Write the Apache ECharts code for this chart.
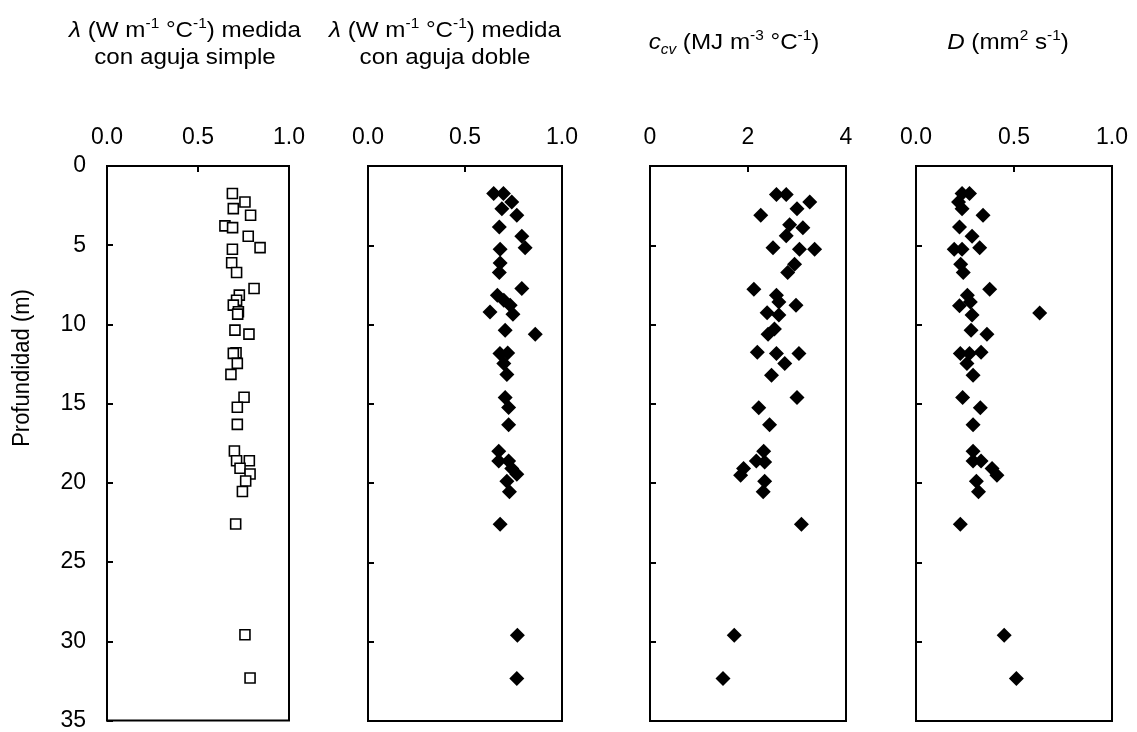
<!DOCTYPE html>
<html><head><meta charset="utf-8">
<script src="https://cdn.jsdelivr.net/npm/echarts@6/dist/echarts.min.js"></script>
<style>html,body{margin:0;padding:0;background:#fff}#c{width:1137px;height:732px}</style>
</head><body><div id="c"></div>
<script>
// Panel 1: lambda, single needle (W m-1 °C-1)
const depthSimple = [1.74, 2.27, 2.69, 3.11, 3.78, 3.89, 4.43, 5.15, 5.25, 6.11, 6.72, 7.73, 8.15, 8.47, 8.78, 9.2, 9.35, 10.36, 10.61, 11.79, 11.83, 12.46, 13.15, 14.6, 15.23, 16.31, 17.99, 18.6, 18.6, 19.08, 19.44, 19.88, 20.55, 22.6, 29.59, 32.32];
const lambdaSimple = [0.689, 0.758, 0.694, 0.789, 0.648, 0.690, 0.776, 0.841, 0.689, 0.685, 0.712, 0.808, 0.727, 0.712, 0.694, 0.722, 0.718, 0.703, 0.780, 0.709, 0.694, 0.716, 0.681, 0.753, 0.716, 0.716, 0.700, 0.712, 0.782, 0.731, 0.786, 0.762, 0.744, 0.707, 0.758, 0.786];
// Panel 2: lambda, dual needle
const depthDoble = [1.74, 1.74, 2.27, 2.69, 3.11, 3.84, 4.43, 5.15, 5.25, 6.11, 6.72, 7.73, 8.15, 8.47, 8.78, 9.2, 9.35, 10.36, 10.61, 11.79, 11.83, 12.46, 13.15, 14.6, 15.23, 16.31, 17.99, 18.6, 18.6, 19.08, 19.44, 19.88, 20.55, 22.6, 29.59, 32.32];
const lambdaDoble = [0.648, 0.698, 0.741, 0.690, 0.767, 0.677, 0.793, 0.810, 0.681, 0.681, 0.677, 0.793, 0.667, 0.70, 0.733, 0.629, 0.747, 0.707, 0.862, 0.72, 0.68, 0.70, 0.716, 0.707, 0.725, 0.725, 0.674, 0.674, 0.725, 0.741, 0.767, 0.716, 0.729, 0.681, 0.770, 0.767];
// Panel 3: volumetric heat capacity (MJ m-3 °C-1)
const depthCcv = [1.8, 1.8, 2.27, 2.69, 3.11, 3.7, 3.9, 4.4, 5.15, 5.25, 5.25, 6.2, 6.72, 7.77, 8.15, 8.57, 8.78, 9.25, 9.4, 10.28, 10.61, 11.75, 11.82, 11.82, 12.46, 13.2, 14.6, 15.25, 16.31, 17.99, 18.6, 18.67, 19.08, 19.5, 19.88, 20.55, 22.6, 29.59, 32.32];
const ccv = [2.58, 2.78, 3.26, 3.0, 2.26, 2.85, 3.12, 2.78, 2.51, 3.05, 3.36, 2.95, 2.81, 2.12, 2.58, 2.63, 2.98, 2.39, 2.63, 2.54, 2.41, 2.19, 2.58, 3.04, 2.75, 2.48, 3.0, 2.22, 2.44, 2.32, 2.17, 2.34, 1.91, 1.85, 2.34, 2.31, 3.09, 1.72, 1.49];
// Panel 4: thermal diffusivity (mm2 s-1)
const depthD = [1.74, 1.74, 2.27, 2.69, 3.11, 3.84, 4.43, 5.15, 5.25, 5.25, 6.2, 6.72, 7.77, 8.15, 8.57, 8.82, 9.27, 9.4, 10.36, 10.61, 11.82, 11.82, 11.75, 12.46, 13.2, 14.6, 15.25, 16.31, 17.99, 18.6, 18.6, 19.08, 19.5, 19.88, 20.55, 22.6, 29.59, 32.32];
const diffD = [0.235, 0.273, 0.217, 0.235, 0.342, 0.222, 0.286, 0.325, 0.195, 0.235, 0.228, 0.241, 0.376, 0.262, 0.277, 0.222, 0.631, 0.286, 0.281, 0.362, 0.226, 0.273, 0.332, 0.26, 0.291, 0.238, 0.328, 0.291, 0.291, 0.291, 0.332, 0.388, 0.413, 0.308, 0.319, 0.226, 0.45, 0.512];

const xMax = [1, 1, 4, 1];
const xInterval = [0.5, 0.5, 2, 0.5];
const yTickMax = 35, yTickInterval = 5;
const yAxisTitle = 'Profundidad (m)';

const FONT = '"Liberation Sans", Arial, sans-serif';
const FS = 22;
const AFS = 23;
const BLACK = '#000';

const grids = [
  {left: 107, width: 182},
  {left: 368, width: 194},
  {left: 650, width: 196},
  {left: 916, width: 196}
].map(g => ({left: g.left, width: g.width, top: 166, height: 555, show: true,
  borderColor: BLACK, borderWidth: 2, backgroundColor: 'transparent', containLabel: false}));

const xAxes = xMax.map((mx, i) => ({
  gridIndex: i, type: 'value', position: 'top', min: 0, max: mx, interval: xInterval[i],
  axisLine: {show: true, onZero: false, lineStyle: {color: BLACK, width: 2}},
  axisTick: {show: true, inside: true, length: 6, lineStyle: {color: BLACK, width: 2}},
  axisLabel: {show: true, margin: 17, color: BLACK, fontSize: AFS, fontFamily: FONT,
    showMinLabel: true, showMaxLabel: true,
    formatter: v => (i === 2 ? String(Math.round(v)) : v.toFixed(1))},
  splitLine: {show: false}
}));

const yAxes = [0, 1, 2, 3].map(i => ({
  gridIndex: i, type: 'value', inverse: true, min: 0, max: yTickMax, interval: yTickInterval,
  axisLine: {show: true, onZero: false, lineStyle: {color: BLACK, width: 2}},
  axisTick: {show: true, inside: true, length: 6, lineStyle: {color: BLACK, width: 2}},
  axisLabel: {show: i === 0, margin: 21, color: BLACK, fontSize: AFS, fontFamily: FONT,
    showMinLabel: true, showMaxLabel: true},
  splitLine: {show: false}
}));

function zip(xs, ys) { return xs.map((x, k) => [x, ys[k]]); }

const diamond = {symbol: 'diamond', symbolSize: 15, itemStyle: {color: BLACK, opacity: 1}};
const series = [
  {type: 'scatter', xAxisIndex: 0, yAxisIndex: 0, data: zip(lambdaSimple, depthSimple),
   symbol: 'rect', symbolSize: 10,
   itemStyle: {color: '#fff', borderColor: BLACK, borderWidth: 1.6, opacity: 1}},
  Object.assign({type: 'scatter', xAxisIndex: 1, yAxisIndex: 1, data: zip(lambdaDoble, depthDoble)}, diamond),
  Object.assign({type: 'scatter', xAxisIndex: 2, yAxisIndex: 2, data: zip(ccv, depthCcv)}, diamond),
  Object.assign({type: 'scatter', xAxisIndex: 3, yAxisIndex: 3, data: zip(diffD, depthD)}, diamond)
];

const rich = {
  n: {fontSize: FS, fontFamily: FONT, color: BLACK, lineHeight: 28, verticalAlign: 'middle'},
  i: {fontSize: FS, fontFamily: FONT, color: BLACK, fontStyle: 'italic', lineHeight: 28, verticalAlign: 'middle'},
  s: {fontSize: 14, fontFamily: FONT, color: BLACK, lineHeight: 28, verticalAlign: 'top'},
  b: {fontSize: 14, fontFamily: FONT, color: BLACK, fontStyle: 'italic', lineHeight: 28, verticalAlign: 'bottom'}
};

function label(text, x, y) {
  return {type: 'text', x: x, y: y, scaleX: 1.1, silent: true,
    style: {text: text, x: 0, y: 0, align: 'center', verticalAlign: 'middle', rich: rich,
      fontSize: FS, fontFamily: FONT, fill: BLACK}};
}

const graphic = [
  label('{i|λ}{n| (W m}{s|-1}{n| °C}{s|-1}{n|) medida}', 185, 31),
  label('{n|con aguja simple}', 185, 58),
  label('{i|λ}{n| (W m}{s|-1}{n| °C}{s|-1}{n|) medida}', 445, 31),
  label('{n|con aguja doble}', 445, 58),
  label('{i|c}{b|cv}{n| (MJ m}{s|-3}{n| °C}{s|-1}{n|)}', 734, 43),
  label('{i|D}{n| (mm}{s|2}{n| s}{s|-1}{n|)}', 1008, 43),
  {type: 'text', x: 22, y: 368, rotation: Math.PI / 2, scaleY: 1.1, silent: true,
   style: {text: yAxisTitle, x: 0, y: 0, align: 'center', verticalAlign: 'middle',
     fontSize: FS, fontFamily: FONT, fill: BLACK}}
];

const chart = echarts.init(document.getElementById('c'), null, {renderer: 'canvas'});
chart.setOption({
  animation: false,
  backgroundColor: '#fff',
  grid: grids,
  xAxis: xAxes,
  yAxis: yAxes,
  series: series,
  graphic: graphic
});
</script>
</body></html>
